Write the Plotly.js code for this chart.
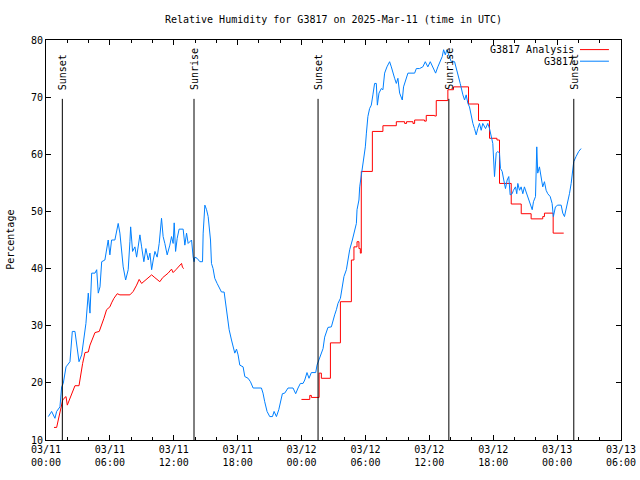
<!DOCTYPE html>
<html><head><meta charset="utf-8">
<script src="https://cdn.plot.ly/plotly-3.0.1.min.js"></script>
<style>html,body{margin:0;padding:0;background:#fff}</style>
</head><body><div id="chart" style="width:640px;height:480px"></div>
<script>
// Hours after 2025-03-11 00:00 UTC
const obsHours = [0.22,0.53,0.84,1.00,1.31,1.47,1.62,1.88,2.25,2.47,2.72,2.88,3.10,3.35,3.56,3.75,3.97,4.13,4.29,4.60,4.76,4.91,5.07,5.23,5.53,5.69,5.84,6.00,6.16,6.47,6.63,6.78,6.94,7.10,7.25,7.48,7.72,7.88,7.95,8.13,8.35,8.51,8.66,8.82,8.98,9.19,9.38,9.60,9.76,9.92,10.07,10.23,10.44,10.63,10.85,11.00,11.16,11.38,11.63,11.79,11.94,12.04,12.17,12.32,12.50,12.88,13.04,13.20,13.35,13.67,13.82,13.91,13.98,14.19,14.45,14.70,14.76,14.92,15.08,15.23,15.45,15.54,15.69,15.85,16.07,16.32,16.48,16.73,16.89,17.05,17.20,17.42,17.57,17.73,17.89,18.04,18.20,18.51,18.67,18.98,19.20,19.45,20.23,20.38,20.54,20.76,21.01,21.27,21.42,21.64,21.86,22.05,22.20,22.42,22.73,23.20,23.45,23.67,23.89,24.14,24.30,24.51,24.70,24.92,25.33,25.45,25.64,25.86,26.02,26.17,26.33,26.48,26.80,26.95,27.11,27.27,27.42,27.65,27.84,27.98,28.21,28.36,28.52,28.77,28.99,29.15,29.21,29.39,29.46,29.55,29.67,29.83,29.99,30.09,30.23,30.39,30.55,30.70,30.86,31.02,31.12,31.27,31.49,31.64,31.80,32.02,32.27,32.43,32.58,32.74,32.90,33.05,33.21,33.46,33.58,33.77,33.99,34.62,34.78,35.08,35.39,35.62,35.86,36.09,36.33,36.59,36.80,37.03,37.21,37.34,37.50,37.65,37.83,38.06,38.37,38.68,38.90,39.15,39.31,39.46,39.62,39.77,39.94,40.09,40.24,40.40,40.55,40.71,40.87,41.02,41.28,41.49,41.65,41.81,41.96,42.12,42.28,42.43,42.59,42.68,42.84,42.99,43.15,43.31,43.46,43.59,43.78,43.90,44.09,44.21,44.31,44.47,44.62,44.78,44.93,45.09,45.24,45.40,45.66,45.78,45.97,46.09,46.18,46.34,46.50,46.65,46.81,46.97,47.12,47.35,47.53,47.65,47.84,48.06,48.38,48.53,48.69,48.85,49.00,49.16,49.32,49.47,49.56,49.78,50.03,50.25];
const obsRH = [14.1,15.0,13.8,15.0,15.8,19.3,19.9,22.8,23.7,29.0,29.0,26.3,23.7,24.9,27.8,30.4,35.7,32.2,39.2,39.2,39.8,35.7,36.8,41.2,41.5,43.3,45.0,42.4,45.0,45.0,46.8,47.9,46.2,42.7,40.3,38.0,39.8,44.7,47.3,43.0,43.8,42.0,44.1,45.9,43.8,41.2,43.5,41.5,42.7,39.8,41.5,43.0,42.0,44.4,48.8,45.6,44.4,42.4,44.1,45.6,44.4,48.0,43.0,45.3,46.9,46.9,44.1,46.2,44.4,45.0,42.0,41.2,42.0,41.8,41.2,41.2,46.2,51.1,50.3,49.1,45.0,40.9,40.0,38.3,37.4,36.5,35.9,35.9,33.9,31.6,29.3,27.5,26.3,25.2,25.9,24.9,23.1,22.8,21.1,20.8,20.2,19.1,19.1,18.2,16.7,15.0,14.1,14.1,15.0,14.1,15.3,17.0,18.1,18.2,19.1,19.1,18.1,19.1,19.9,19.9,20.5,21.8,20.8,21.8,21.8,23.1,24.0,25.0,26.0,28.0,29.0,29.7,29.8,31.0,31.9,32.8,33.9,34.8,36.8,38.6,39.8,41.8,43.3,45.0,46.5,47.9,50.3,52.0,54.3,55.5,57.8,59.6,61.3,63.7,66.6,68.0,68.6,70.4,72.4,72.4,68.6,70.7,71.5,71.3,74.2,75.3,76.2,75.3,74.2,73.3,72.4,73.3,70.7,69.5,71.8,73.0,74.2,74.2,75.0,75.0,75.3,76.2,75.3,76.2,75.3,74.2,75.3,76.2,77.1,78.3,77.4,78.3,77.4,76.2,76.2,74.2,72.4,70.4,69.5,70.4,68.9,68.3,66.6,65.4,64.5,63.4,64.5,65.4,64.2,65.4,64.5,65.4,64.5,62.8,61.9,56.1,60.2,60.5,60.2,57.5,57.0,55.5,54.0,55.5,56.1,52.9,53.1,53.7,54.3,53.1,54.9,53.7,54.3,53.1,54.3,53.4,52.6,51.4,50.3,51.7,52.6,61.3,56.7,57.8,55.5,54.3,55.2,53.7,53.1,52.6,51.4,49.1,50.8,51.1,51.1,49.7,49.1,50.3,51.4,53.1,54.9,57.2,58.7,59.6,60.5,61.0];

const anaDay1Hours = [0.75,1.00,1.15,1.38,1.57,1.69,1.88,2.00,2.25,2.50,2.72,3.10,3.26,3.44,3.66,3.97,4.13,4.38,4.60,5.00,5.23,5.44,5.69,6.00,6.16,6.38,6.69,6.94,7.88,8.19,8.51,8.75,8.98,9.92,10.23,10.69,10.95,11.47,11.79,11.94,12.20,12.57,12.73,12.82,12.95];
const anaDay1RH = [12.2,12.2,13.5,15.5,17.0,17.3,17.6,16.1,17.3,18.5,19.5,19.5,21.4,23.4,25.3,25.4,26.6,27.8,28.8,29.0,30.1,31.3,32.8,33.3,34.0,34.8,35.6,35.4,35.4,36.0,37.1,38.1,37.4,38.9,38.4,37.7,38.4,39.2,39.9,39.3,39.8,40.6,40.9,40.2,40.0];

const anaDay2Hours = [23.99,24.77,24.92,25.65,25.86,26.71,27.65,28.68,28.92,29.21,29.39,29.52,29.61,30.65,31.64,32.90,33.68,33.86,34.46,34.62,35.55,35.71,36.49,36.65,37.74,38.27,39.68,40.62,41.65,42.35,42.59,43.69,44.63,45.56,46.65,46.81,47.63,48.62];
const anaDay2RH = [17.1,17.8,17.45,21.7,20.8,27.0,34.2,41.5,43.8,44.7,43.5,42.7,57.0,64.0,65.0,65.7,65.4,65.7,65.4,66.0,65.8,66.8,66.7,69.4,71.3,71.8,68.8,65.9,62.8,62.5,54.9,51.3,49.6,48.7,49.1,49.7,46.2,46.2];

const sunEventTimes = ['2025-03-11 01:32','2025-03-11 13:54','2025-03-12 01:33','2025-03-12 13:50','2025-03-13 01:34'];
const sunEventNames = ['Sunset','Sunrise','Sunset','Sunrise','Sunset'];

const xTickVals = ['2025-03-11 00:00','2025-03-11 06:00','2025-03-11 12:00','2025-03-11 18:00','2025-03-12 00:00','2025-03-12 06:00','2025-03-12 12:00','2025-03-12 18:00','2025-03-13 00:00','2025-03-13 06:00'];
const xTickText = ['03/11<br>00:00','03/11<br>06:00','03/11<br>12:00','03/11<br>18:00','03/12<br>00:00','03/12<br>06:00','03/12<br>12:00','03/12<br>18:00','03/13<br>00:00','03/13<br>06:00'];
const yTickVals = [10,20,30,40,50,60,70,80];

const seriesNames = ['G3817 Analysis','G3817'];
const seriesColors = ['#ff0000','#0080ff'];

function pad(n){return (n<10?'0':'')+n;}
const baseMs = Date.UTC(2025,2,11,0,0,0);
function toDate(h){
  const d = new Date(baseMs + h*3600000);
  return d.getUTCFullYear()+'-'+pad(d.getUTCMonth()+1)+'-'+pad(d.getUTCDate())+' '+pad(d.getUTCHours())+':'+pad(d.getUTCMinutes())+':'+pad(d.getUTCSeconds());
}

const FONT = 'DejaVu Sans Mono, Liberation Mono, monospace';

const traces = [
  {x: anaDay1Hours.map(toDate), y: anaDay1RH, type:'scatter', mode:'lines', name: seriesNames[0],
   line:{color: seriesColors[0], width:1}, showlegend:false, hoverinfo:'skip'},
  {x: anaDay2Hours.map(toDate), y: anaDay2RH, type:'scatter', mode:'lines', name: seriesNames[0],
   line:{color: seriesColors[0], width:1, shape:'hv'}, showlegend:false, hoverinfo:'skip'},
  {x: obsHours.map(toDate), y: obsRH, type:'scatter', mode:'lines', name: seriesNames[1],
   line:{color: seriesColors[1], width:1}, showlegend:false, hoverinfo:'skip'}
];

const shapes = sunEventTimes.map(t => ({type:'line', xref:'x', yref:'y', x0:t, x1:t, y0:10, y1:69.7,
  line:{color:'#000', width:1}}));
const annotations = sunEventTimes.map((t,i) => ({x:t, y:70.9, xref:'x', yref:'y', text:sunEventNames[i],
  textangle:-90, showarrow:false, xanchor:'center', yanchor:'bottom', font:{family:FONT, size:10, color:'#000'}}));

// legend drawn gnuplot-style (text then sample line on the right)
const legRowsY = [0.976, 0.947];
seriesNames.forEach((nm,i) => {
  annotations.push({xref:'paper', yref:'paper', x:0.921, y:legRowsY[i], text:nm, showarrow:false,
    xanchor:'right', yanchor:'middle', font:{family:FONT, size:10, color:'#000'}});
  shapes.push({type:'line', xref:'paper', yref:'paper', x0:0.9287, x1:0.979, y0:legRowsY[i], y1:legRowsY[i],
    line:{color:seriesColors[i], width:1}});
});
annotations.push({xref:'paper', yref:'paper', x:-0.063, y:0.5, text:'Percentage', textangle:-90, showarrow:false,
  xanchor:'center', yanchor:'middle', font:{family:FONT, size:10, color:'#000'}});

const layout = {
  width:640, height:480,
  margin:{l:46, r:19, t:40, b:40, pad:0},
  paper_bgcolor:'#fff', plot_bgcolor:'#fff',
  font:{family:FONT, size:10, color:'#000'},
  title:{text:'Relative Humidity for G3817 on 2025-Mar-11 (time in UTC)', x:0.5, xref:'paper',
    y:1-19/480, yref:'container', yanchor:'middle', font:{family:FONT, size:10, color:'#000'}},
  showlegend:false,
  xaxis:{type:'date', range:['2025-03-11 00:00','2025-03-13 06:00'], tickmode:'array',
    tickvals:xTickVals, ticktext:xTickText, ticks:'inside', ticklen:5, tickcolor:'#000',
    showline:true, linecolor:'#000', linewidth:1, mirror:'ticks', showgrid:false, zeroline:false,
    minor:{dtick:7200000, tick0:'2025-03-11 00:00', ticks:'inside', ticklen:3, tickcolor:'#000', showgrid:false},
    tickfont:{family:FONT, size:10, color:'#000'}, fixedrange:true},
  yaxis:{range:[10,80], tickmode:'array', tickvals:yTickVals, ticks:'inside', ticklen:5, tickcolor:'#000',
    showline:true, linecolor:'#000', linewidth:1, mirror:'ticks', showgrid:false, zeroline:false,
    tickfont:{family:FONT, size:10, color:'#000'}, fixedrange:true},
  shapes: shapes,
  annotations: annotations
};

Plotly.newPlot('chart', traces, layout, {staticPlot:true, displayModeBar:false});
</script></body></html>
